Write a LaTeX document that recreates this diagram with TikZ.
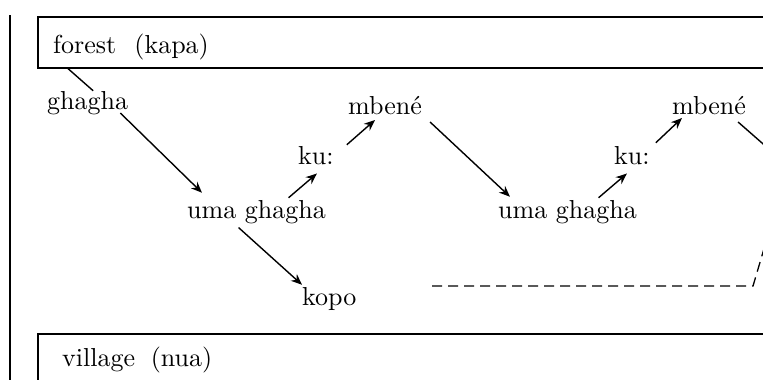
\documentclass[tikz,border=0pt]{standalone}
\usepackage{fontspec}
\setmainfont{lmroman10-regular}[Extension=.otf]
\usetikzlibrary{arrows.meta}
\begin{document}
\begin{tikzpicture}[x=1pt,y=-1pt,
  lbl/.style={anchor=base west, inner sep=0pt, font=\fontsize{26}{31}\selectfont},
  frame/.style={draw, line width=1.6pt, anchor=north west, inner sep=0pt},
  ln/.style={line width=1.4pt},
  arr/.style={ln, -{Stealth[length=11pt,width=9pt]}},
  dsh/.style={line width=1.3pt, dash pattern=on 10pt off 6pt}]
\useasboundingbox (0,0) rectangle (763,380);
% left rule
\coordinate (rtop) at (10,15);
\coordinate (rbot) at (10,390);
\draw[line width=1.6pt] (rtop) -- (rbot);
% boxes
\node[frame, minimum width=745pt, minimum height=51pt] (forestbox) at (37,16) {};
\node[frame, minimum width=745pt, minimum height=70pt] (villagebox) at (37,333) {};
% labels
\node[lbl] (forest) at (53,53) {forest\hspace{0.7em}(kapa)};
\node[lbl] (village) at (62,366) {village\hspace{0.6em}(nua)};
\node[lbl] (ghagha) at (47,109) {ghagha};
\node[lbl] (uma1) at (187,218) {uma ghagha};
\node[lbl] (ku1) at (298,164) {ku:};
\node[lbl] (mbene1) at (348,114) {mbené};
\node[lbl] (uma2) at (498,218) {uma ghagha};
\node[lbl] (ku2) at (614,164) {ku:};
\node[lbl] (mbene2) at (672,114) {mbené};
\node[lbl] (kopo) at (302,305) {kopo};
% free ends
\coordinate (offright) at (778,157);
\coordinate (dstart) at (432,286);
\coordinate (dcorner) at (753,286);
\coordinate (dend) at (766,242);
% connectors
\draw[ln] ([shift={(31,0)}]forestbox.south west) -- ([shift={(5.5,0)}]ghagha.north);
\draw[arr] ([shift={(-8,4)}]ghagha.base east) -- ([shift={(15,-7)}]uma1.north west);
\draw[arr] ([shift={(32,-2)}]uma1.north) -- ([shift={(1,9)}]ku1.south);
\draw[arr] ([shift={(13,-1)}]ku1.north east) -- ([shift={(27,6)}]mbene1.base west);
\draw[arr] ([shift={(8,8)}]mbene1.base east) -- ([shift={(12,-3)}]uma2.north west);
\draw[arr] ([shift={(-18,4)}]uma1.south) -- ([shift={(0,-2)}]kopo.north west);
\draw[arr] ([shift={(31,-2)}]uma2.north) -- ([shift={(-5,9)}]ku2.south);
\draw[arr] ([shift={(6,-3)}]ku2.north east) -- ([shift={(10,4)}]mbene2.base west);
\draw[ln] ([shift={(-8,8)}]mbene2.base east) -- (offright);
\draw[dsh] (dstart) -- (dcorner) -- (dend);
\end{tikzpicture}
\end{document}
